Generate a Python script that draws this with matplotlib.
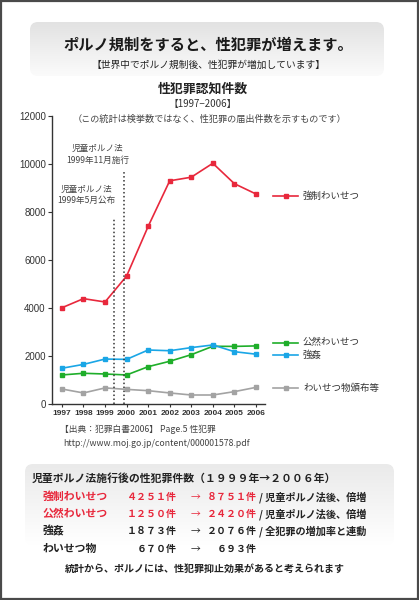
import numpy as np
import matplotlib
matplotlib.use("Agg")
import matplotlib.pyplot as plt
from matplotlib.patches import FancyBboxPatch, Rectangle

plt.rcParams['font.family'] = ['Noto Sans CJK JP', 'DejaVu Sans']

# データ
years = [1997, 1998, 1999, 2000, 2001, 2002, 2003, 2004, 2005, 2006]
kyousei = [4010, 4390, 4251, 5330, 7400, 9300, 9450, 10030, 9180, 8751]
kouzen = [1210, 1280, 1250, 1210, 1555, 1780, 2055, 2405, 2400, 2420]
goukan = [1490, 1650, 1873, 1860, 2250, 2220, 2350, 2460, 2180, 2076]
hanpu = [625, 460, 670, 610, 555, 460, 375, 375, 515, 693]

series_names = ['強制わいせつ', '公然わいせつ', '強姦', 'わいせつ物頒布等']
series_vals = [kyousei, kouzen, goukan, hanpu]
series_colors = ['#e8283c', '#1fae2a', '#1aa6e6', '#a3a3a3']
legend_y = [196, 343, 355, 388]  # 凡例の縦位置(px)

law_dates = [1999.4, 1999.88]
law_tops = [7750, 9650]
law_texts = ['児童ポルノ法\n1999年5月公布', '児童ポルノ法\n1999年11月施行']

yticks = [0, 2000, 4000, 6000, 8000, 10000, 12000]

table_rows = [
    ('強制わいせつ', '４２５１件', '８７５１件', '/ 児童ポルノ法後、倍増', '#e8283c'),
    ('公然わいせつ', '１２５０件', '２４２０件', '/ 児童ポルノ法後、倍増', '#e8283c'),
    ('強姦', '１８７３件', '２０７６件', '/ 全犯罪の増加率と連動', '#222222'),
    ('わいせつ物', '６７０件', '６９３件', '', '#222222'),
]

W, H = 419, 600
fig = plt.figure(figsize=(W / 100, H / 100), dpi=100)
fig.patch.set_facecolor('white')

# 背景用オーバーレイ（ピクセル座標）
bg = fig.add_axes([0, 0, 1, 1], zorder=0)
bg.set_xlim(0, W)
bg.set_ylim(H, 0)
bg.axis('off')


def grad_box(x0, y0, x1, y1, c_top, c_bot):
    patch = FancyBboxPatch((x0, y0), x1 - x0, y1 - y0,
                           boxstyle='round,pad=0,rounding_size=8',
                           facecolor='none', edgecolor='none')
    bg.add_patch(patch)
    t = np.linspace(0, 1, 100)[:, None, None]
    ct = np.array(matplotlib.colors.to_rgb(c_top))
    cb = np.array(matplotlib.colors.to_rgb(c_bot))
    img = ct * (1 - t) + cb * t
    im = bg.imshow(img, extent=(x0, x1, y1, y0), aspect='auto', zorder=0.5)
    im.set_clip_path(patch)


grad_box(30, 22, 384, 76, '#e2e2e2', '#fbfbfb')
grad_box(25, 464, 394, 545, '#eaeaea', '#ffffff')

bg.add_patch(Rectangle((0.8, 0.8), W - 1.6, H - 1.6, fill=False,
                       edgecolor='#4a4a4a', linewidth=1.6))

bg.text(208, 45, 'ポルノ規制をすると、性犯罪が増えます。', ha='center', va='center',
        fontsize=11, fontweight='bold', color='#1a1a1a')
bg.text(208, 65, '【世界中でポルノ規制後、性犯罪が増加しています】', ha='center', va='center',
        fontsize=7, color='#222222')
bg.text(203, 89, '性犯罪認知件数', ha='center', va='center',
        fontsize=9.3, fontweight='bold', color='#222222')
bg.text(203, 104, '【1997−2006】', ha='center', va='center',
        fontsize=7, color='#333333')
bg.text(210, 119, '（この統計は検挙数ではなく、性犯罪の届出件数を示すものです）',
        ha='center', va='center', fontsize=6.6, color='#444444')

# 凡例（各系列の右端）
for name, col, ly in zip(series_names, series_colors, legend_y):
    bg.plot([273, 285.5, 298], [ly, ly, ly], color=col, lw=1.2,
            marker='s', markersize=3.5, markevery=[1], zorder=3)
    bg.text(303, ly, name, ha='left', va='center', fontsize=6.8, color='#333333')

# 出典
bg.text(60, 429, '【出典：犯罪白書2006】 Page.5 性犯罪', ha='left', va='center',
        fontsize=6.3, color='#444444')
bg.text(63, 443, 'http://www.moj.go.jp/content/000001578.pdf', ha='left', va='center',
        fontsize=6.3, color='#444444')

# 下の表
bg.text(32, 479, '児童ポルノ法施行後の性犯罪件数（１９９９年→２００６年）', ha='left',
        va='center', fontsize=7.8, fontweight='bold', color='#222222')
row_y = [497, 514, 531, 549]
for (lab, a, b, note, col), ry in zip(table_rows, row_y):
    bg.text(43, ry, lab, ha='left', va='center', fontsize=7.8, fontweight='bold', color=col)
    bg.text(177, ry, a, ha='right', va='center', fontsize=7.2, fontweight='bold', color=col)
    bg.text(195, ry, '→', ha='center', va='center', fontsize=7, color=col)
    bg.text(257, ry, b, ha='right', va='center', fontsize=7.2, fontweight='bold', color=col)
    if note:
        bg.text(259, ry, note, ha='left', va='center', fontsize=7.3, fontweight='bold',
                color='#222222')
bg.text(205, 569, '統計から、ポルノには、性犯罪抑止効果があると考えられます', ha='center',
        va='center', fontsize=7.2, fontweight='bold', color='#222222')

# グラフ本体
ax = fig.add_axes([52 / W, 1 - 404 / H, (265 - 52) / W, (404 - 116) / H], zorder=2)
ax.patch.set_alpha(0)
for vals, col in zip(series_vals, series_colors):
    ax.plot(years, vals, color=col, lw=1.2, marker='s', markersize=3.5, clip_on=False)

for d, top in zip(law_dates, law_tops):
    ax.vlines(d, 0, top, colors='#333333', linestyles=(0, (1, 1.6)), lw=1.1)

ax.text(1998.15, 8700, law_texts[0], ha='center', va='center', fontsize=6.2,
        color='#444444', linespacing=1.3)
ax.text(1998.65, 10400, law_texts[1], ha='center', va='center', fontsize=6.2,
        color='#444444', linespacing=1.3)

ax.set_xlim(1996.54, 2006.42)
ax.set_ylim(0, 12000)
ax.set_xticks(years)
ax.set_xticklabels([str(y) for y in years], fontsize=6, family='Liberation Sans',
                   fontweight='bold', color='#333333')
ax.set_yticks(yticks)
ax.set_yticklabels([str(v) for v in yticks], fontsize=7, family='Liberation Sans',
                   color='#222222')
ax.tick_params(axis='y', direction='out', length=3, width=0.8, pad=1.5, colors='#333333')
ax.tick_params(axis='x', direction='out', length=2.5, width=0.8, pad=2, colors='#333333')
for s in ['top', 'right']:
    ax.spines[s].set_visible(False)
for s in ['left', 'bottom']:
    ax.spines[s].set_color('#333333')
    ax.spines[s].set_linewidth(1.0)

fig.savefig('out.png', dpi=100)
